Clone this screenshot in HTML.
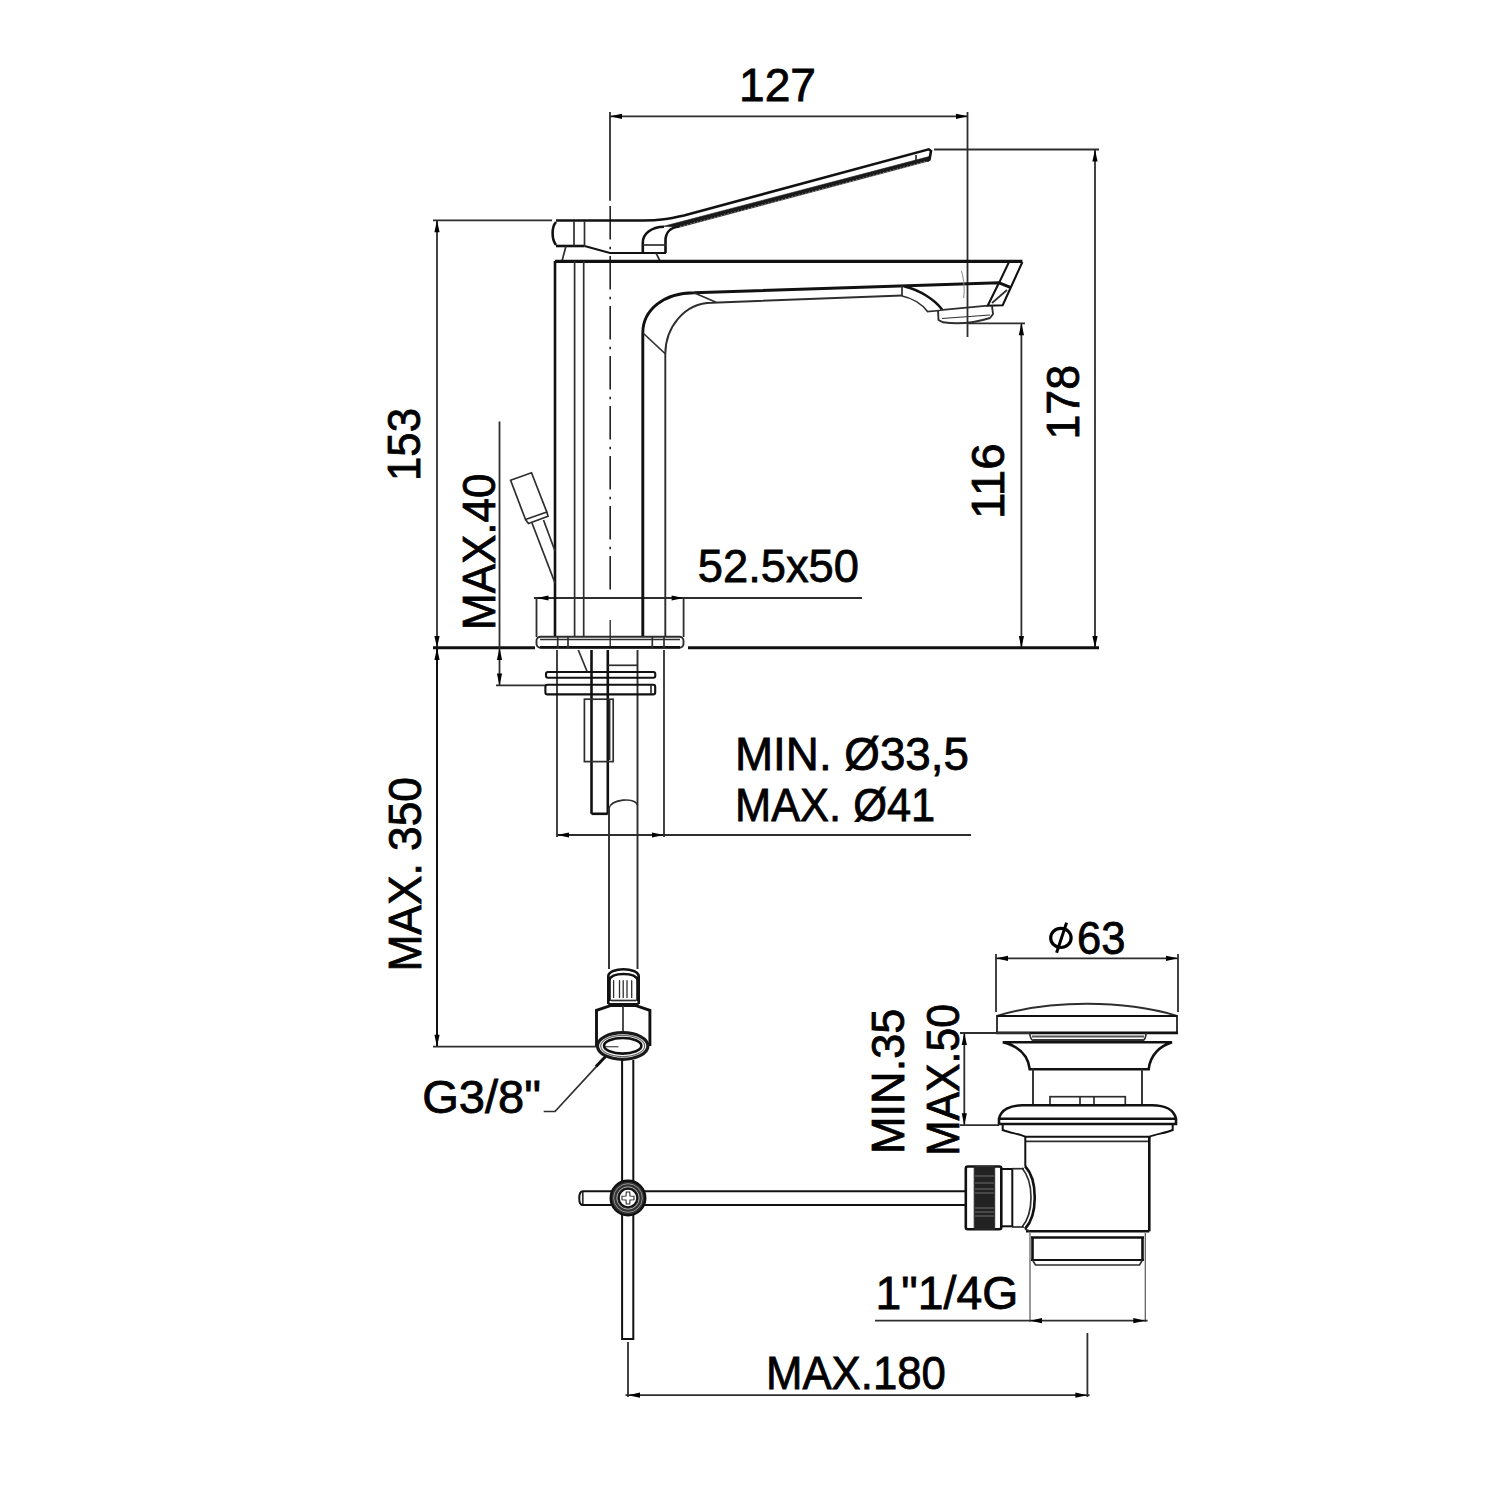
<!DOCTYPE html>
<html><head><meta charset="utf-8"><style>
html,body{margin:0;padding:0;background:#fff;}
svg{display:block;}
text{font-family:"Liberation Sans", sans-serif;fill:#000;stroke:#000;stroke-width:0.8px;}
</style></head><body>
<svg width="1500" height="1500" viewBox="0 0 1500 1500">
<rect width="1500" height="1500" fill="#fff"/>
<line x1="610" y1="116.3" x2="968" y2="116.3" stroke="#2e2e2e" stroke-width="1.8"/>
<polygon points="610.0,116.3 622.0,113.7 622.0,118.9" fill="#000"/>
<polygon points="968.0,116.3 956.0,113.7 956.0,118.9" fill="#000"/>
<line x1="610" y1="112" x2="610" y2="200.7" stroke="#2e2e2e" stroke-width="1.8"/>
<line x1="967.5" y1="112" x2="967.5" y2="337" stroke="#2e2e2e" stroke-width="1.8"/>
<line x1="934" y1="149.5" x2="1099" y2="149.5" stroke="#2e2e2e" stroke-width="1.8"/>
<line x1="1095" y1="149.5" x2="1095" y2="648" stroke="#2e2e2e" stroke-width="1.8"/>
<polygon points="1095.0,149.5 1092.4,161.5 1097.6,161.5" fill="#000"/>
<polygon points="1095.0,648.0 1092.4,636.0 1097.6,636.0" fill="#000"/>
<line x1="968" y1="323.3" x2="1025" y2="323.3" stroke="#2e2e2e" stroke-width="1.8"/>
<line x1="1021.4" y1="323.3" x2="1021.4" y2="648" stroke="#2e2e2e" stroke-width="1.8"/>
<polygon points="1021.4,323.3 1018.8,335.3 1024.0,335.3" fill="#000"/>
<polygon points="1021.4,648.0 1018.8,636.0 1024.0,636.0" fill="#000"/>
<line x1="433" y1="220.3" x2="552" y2="220.3" stroke="#2e2e2e" stroke-width="1.8"/>
<line x1="437" y1="220.3" x2="437" y2="648" stroke="#2e2e2e" stroke-width="1.8"/>
<polygon points="437.0,220.3 434.4,232.3 439.6,232.3" fill="#000"/>
<polygon points="437.0,648.0 434.4,636.0 439.6,636.0" fill="#000"/>
<line x1="433" y1="647.8" x2="535" y2="647.8" stroke="#111" stroke-width="3.0"/>
<line x1="688" y1="647.8" x2="1099" y2="647.8" stroke="#111" stroke-width="3.0"/>
<line x1="499.5" y1="421.5" x2="499.5" y2="685.4" stroke="#2e2e2e" stroke-width="1.8"/>
<polygon points="499.5,648.0 496.9,660.0 502.1,660.0" fill="#000"/>
<polygon points="499.5,685.4 496.9,673.4 502.1,673.4" fill="#000"/>
<line x1="496" y1="685.4" x2="546" y2="685.4" stroke="#2e2e2e" stroke-width="1.8"/>
<line x1="534" y1="598" x2="862" y2="598" stroke="#2e2e2e" stroke-width="1.8"/>
<polygon points="536.5,598.0 548.5,595.4 548.5,600.6" fill="#000"/>
<polygon points="683.6,598.0 671.6,595.4 671.6,600.6" fill="#000"/>
<line x1="536.5" y1="598" x2="536.5" y2="637" stroke="#2e2e2e" stroke-width="1.8"/>
<line x1="683.6" y1="598" x2="683.6" y2="637" stroke="#2e2e2e" stroke-width="1.8"/>
<line x1="437" y1="648" x2="437" y2="1047" stroke="#111" stroke-width="2.0"/>
<polygon points="437.0,648.0 434.4,660.0 439.6,660.0" fill="#000"/>
<polygon points="437.0,1046.7 434.4,1034.7 439.6,1034.7" fill="#000"/>
<line x1="433" y1="1046.7" x2="597" y2="1046.7" stroke="#2e2e2e" stroke-width="1.8"/>
<line x1="604" y1="1046.7" x2="618.5" y2="1046.7" stroke="#555" stroke-width="1.3"/>
<line x1="557" y1="835" x2="971" y2="835" stroke="#2e2e2e" stroke-width="1.8"/>
<polygon points="557.0,835.0 569.0,832.4 569.0,837.6" fill="#000"/>
<polygon points="664.0,835.0 652.0,832.4 652.0,837.6" fill="#000"/>
<line x1="557" y1="650" x2="557" y2="837" stroke="#2e2e2e" stroke-width="1.8"/>
<line x1="664" y1="650" x2="664" y2="837" stroke="#2e2e2e" stroke-width="1.8"/>
<line x1="610.2" y1="206" x2="610.2" y2="590" stroke="#222" stroke-width="1.6" stroke-dasharray="33.5 7.2 2.6 6.7" stroke-dashoffset="0"/>
<line x1="610.2" y1="620" x2="610.2" y2="648" stroke="#2e2e2e" stroke-width="1.4"/>
<path d="M556,220.5 L643,220.5 C660,220.5 668,219 684,215.5 L928.7,149.3 L931,151 L929.5,159.5 L927,161" stroke="#111" stroke-width="2.6" fill="none" />
<path d="M556,222 C551.5,227 551.5,239 556,245" stroke="#111" stroke-width="2.6" fill="none" />
<line x1="556" y1="246" x2="584.5" y2="246" stroke="#111" stroke-width="2.6"/>
<path d="M584.5,246 L610,253 L666,253" stroke="#111" stroke-width="2.0" fill="none" />
<line x1="574" y1="221" x2="574" y2="246" stroke="#2e2e2e" stroke-width="1.7"/>
<line x1="584.5" y1="221" x2="584.5" y2="246" stroke="#2e2e2e" stroke-width="1.7"/>
<line x1="566" y1="246" x2="562" y2="261" stroke="#2e2e2e" stroke-width="1.7"/>
<line x1="656" y1="253" x2="660" y2="261" stroke="#2e2e2e" stroke-width="1.7"/>
<path d="M642.8,253 L642.8,242.7 C642.8,234 651,227 664,226.8" stroke="#111" stroke-width="2.6" fill="none" />
<path d="M665.5,253 L665.5,240.5 C665.5,233 670,227.5 679,226.5" stroke="#111" stroke-width="2.6" fill="none" />
<line x1="643" y1="245" x2="666" y2="245" stroke="#2e2e2e" stroke-width="1.7"/>
<polygon points="663.5,226.3 929,156.6 929.5,160.8 679.5,227.2" fill="#1a1a1a" stroke="#1a1a1a" stroke-width="0.6"/>
<path d="M680,226.5 L925,161.5" stroke="#888" stroke-width="0.9" stroke-dasharray="1.5 2" fill="none"/>
<line x1="916" y1="155" x2="916" y2="160" stroke="#2e2e2e" stroke-width="1.7"/>
<line x1="555" y1="261.3" x2="1022.4" y2="261.3" stroke="#111" stroke-width="3.2"/>
<line x1="555" y1="261" x2="555" y2="637" stroke="#111" stroke-width="2.6"/>
<line x1="574.6" y1="261" x2="574.6" y2="637" stroke="#2e2e2e" stroke-width="1.7"/>
<line x1="583.7" y1="261" x2="583.7" y2="637" stroke="#2e2e2e" stroke-width="1.7"/>
<path d="M642.8,637 L642.8,333 C642.8,310 664,292.7 694,292.7 L999,282.8 L1011,287.6" stroke="#111" stroke-width="2.9" fill="none" />
<path d="M665.3,637 L665.3,354 C665.3,328 684,302.7 712,302.7 L902,295.5" stroke="#2e2e2e" stroke-width="1.9" fill="none" />
<line x1="643" y1="333" x2="665.5" y2="354" stroke="#2e2e2e" stroke-width="1.7"/>
<line x1="694" y1="292.7" x2="716" y2="302.3" stroke="#2e2e2e" stroke-width="1.7"/>
<path d="M1022.4,262 L1002.7,305.2 L987.7,305.7 L999,282.8" stroke="#111" stroke-width="2.1" fill="none" />
<line x1="1009" y1="262" x2="999" y2="283" stroke="#111" stroke-width="2.0"/>
<line x1="1007" y1="290" x2="992" y2="303" stroke="#2e2e2e" stroke-width="1.7"/>
<line x1="902" y1="285.5" x2="902" y2="296" stroke="#2e2e2e" stroke-width="1.7"/>
<path d="M902,296 C912,298 922,304 927.5,311.6 L940,310.5" stroke="#2e2e2e" stroke-width="1.7" fill="none" />
<path d="M904.5,286.5 C920,290 935,300 942,309.5" stroke="#111" stroke-width="2.6" fill="none" />
<line x1="940" y1="310.2" x2="987.7" y2="305.7" stroke="#2e2e2e" stroke-width="1.7"/>
<path d="M938,310 L938.5,320 L943,322.3 Q966,325.5 990,318 L993,314 L992,306" stroke="#2e2e2e" stroke-width="1.9" fill="none" />
<line x1="942" y1="318.5" x2="990" y2="315" stroke="#2e2e2e" stroke-width="1.2"/>
<rect x="536.5" y="636.8" width="147" height="11" rx="4" stroke="#2e2e2e" stroke-width="1.9" fill="none"/>
<line x1="540" y1="647.2" x2="680" y2="647.2" stroke="#111" stroke-width="2.6"/>
<line x1="540" y1="639.5" x2="680" y2="639.5" stroke="#2e2e2e" stroke-width="1.7"/>
<line x1="557.7" y1="637" x2="557.7" y2="648" stroke="#2e2e2e" stroke-width="1.7"/>
<line x1="568" y1="637" x2="568" y2="648" stroke="#2e2e2e" stroke-width="1.7"/>
<line x1="652.3" y1="637" x2="652.3" y2="648" stroke="#2e2e2e" stroke-width="1.7"/>
<line x1="664" y1="637" x2="664" y2="648" stroke="#2e2e2e" stroke-width="1.7"/>
<path d="M510.6,480.3 L531.5,472.8 L546.8,512 L525.5,519.5 Z" stroke="#2e2e2e" stroke-width="1.7" fill="none" />
<path d="M525.5,519.5 L528.5,523.5 L548,516.3 L546.8,512" stroke="#2e2e2e" stroke-width="1.7" fill="none" />
<line x1="532" y1="523" x2="555" y2="583" stroke="#2e2e2e" stroke-width="1.7"/>
<line x1="543.5" y1="520" x2="555" y2="551" stroke="#2e2e2e" stroke-width="1.7"/>
<path d="M961.5,271 C964,280 965,290 963.5,298" stroke="#888" stroke-width="1.0" fill="none" />
<line x1="591.5" y1="650" x2="591.5" y2="813.8" stroke="#111" stroke-width="2.6"/>
<line x1="607.8" y1="650" x2="607.8" y2="813.8" stroke="#111" stroke-width="2.6"/>
<line x1="591.5" y1="813.8" x2="607.8" y2="813.8" stroke="#111" stroke-width="2.6"/>
<line x1="637.5" y1="650" x2="637.5" y2="969" stroke="#2e2e2e" stroke-width="1.9"/>
<line x1="578.3" y1="650" x2="587" y2="671.2" stroke="#2e2e2e" stroke-width="1.7"/>
<line x1="608" y1="665.3" x2="637.5" y2="665.3" stroke="#2e2e2e" stroke-width="1.7"/>
<rect x="546" y="672" width="109.3" height="5.8" rx="2" stroke="#111" stroke-width="2.1" fill="none"/>
<rect x="545.4" y="684.8" width="109.8" height="9.6" rx="2" stroke="#111" stroke-width="2.1" fill="none"/>
<line x1="651" y1="685" x2="651" y2="694" stroke="#2e2e2e" stroke-width="1.7"/>
<rect x="584.4" y="699.2" width="28.8" height="62.4" rx="0" stroke="#2e2e2e" stroke-width="1.7" fill="none"/>
<line x1="609.6" y1="699" x2="609.6" y2="760" stroke="#2e2e2e" stroke-width="1.7"/>
<line x1="609" y1="808" x2="609" y2="969" stroke="#2e2e2e" stroke-width="1.9"/>
<path d="M609,808 C612,799 634,797 637.5,805" stroke="#2e2e2e" stroke-width="1.7" fill="none" />
<path d="M608.3,1004 L608.3,976 C609,967 638,967 638.7,976 L638.7,1004" stroke="#111" stroke-width="2.6" fill="none" />
<path d="M609,980 C612,972 635,972 638,980" stroke="#111" stroke-width="2.6" fill="none" />
<line x1="609.5" y1="979" x2="609.5" y2="1001" stroke="#111" stroke-width="2.6"/>
<line x1="637.5" y1="979" x2="637.5" y2="1001" stroke="#111" stroke-width="2.6"/>
<path d="M613.6,998 L613.6,983 C613.6,980 613.6,980 613.6,983" stroke="#2e2e2e" stroke-width="1.3" fill="none" />
<path d="M619.5,998 L619.5,983 C619.5,980 619.5,980 619.5,983" stroke="#2e2e2e" stroke-width="1.3" fill="none" />
<path d="M623.2,998 L623.2,983 C623.2,980 623.2,980 623.2,983" stroke="#2e2e2e" stroke-width="1.3" fill="none" />
<path d="M627,998 L627,983 C627,980 627,980 627,983" stroke="#2e2e2e" stroke-width="1.3" fill="none" />
<path d="M631.7,998 L631.7,983 C631.7,980 631.7,980 631.7,983" stroke="#2e2e2e" stroke-width="1.3" fill="none" />
<line x1="611" y1="1000.5" x2="636" y2="1000.5" stroke="#2e2e2e" stroke-width="1.7"/>
<line x1="608.3" y1="1004.2" x2="638.7" y2="1004.2" stroke="#111" stroke-width="2.4"/>
<path d="M596.5,1046 L596.5,1010.4 L610.4,1005.6 L636,1005.6 L649.9,1010.4 L649.9,1046" stroke="#111" stroke-width="2.9" fill="none" />
<line x1="623" y1="1005.6" x2="623" y2="1031" stroke="#2e2e2e" stroke-width="1.7"/>
<ellipse cx="622.7" cy="1046" rx="25.2" ry="13.3" stroke="#1a1a1a" stroke-width="3.2" fill="none"/>
<ellipse cx="622.7" cy="1046" rx="22" ry="10.6" stroke="#666" stroke-width="1.2" fill="none"/>
<ellipse cx="622.7" cy="1045.8" rx="18.7" ry="7.8" stroke="#111" stroke-width="2.6" fill="none"/>
<path d="M543.7,1111.5 L555,1111.5 L605.3,1056.8" stroke="#2e2e2e" stroke-width="1.7" fill="none" />
<path d="M596,1066.5 L605.5,1056.5" stroke="#111" stroke-width="3.0" fill="none" />
<path d="M622.1,1060 L622.1,1339 L633.3,1339 L633.3,1060" stroke="#111" stroke-width="2.0" fill="none" />
<path d="M966,1191.2 L583,1191.2 C578,1191.2 578,1205.1 583,1205.1 L966,1205.1" stroke="#111" stroke-width="2.0" fill="none" />
<line x1="582.8" y1="1192" x2="582.8" y2="1204" stroke="#2e2e2e" stroke-width="1.7"/>
<circle cx="628" cy="1198" r="13.5" stroke="#333" stroke-width="7.5" fill="#fff"/>
<circle cx="628" cy="1198" r="17.3" stroke="#111" stroke-width="2.4" fill="none"/>
<circle cx="628" cy="1198" r="14.3" stroke="#999" stroke-width="0.9" fill="none"/>
<circle cx="628" cy="1198" r="11.2" stroke="#aaa" stroke-width="1.0" fill="none"/>
<circle cx="628" cy="1198" r="9.2" stroke="#111" stroke-width="2.0" fill="none"/>
<path d="M626.3,1192 L629.7,1192 L630,1196 L634,1196.3 L634,1199.7 L630,1200 L629.7,1204 L626.3,1204 L626,1200 L622,1199.7 L622,1196.3 L626,1196 Z" stroke="#2e2e2e" stroke-width="1.1" fill="none" />
<line x1="996" y1="958.3" x2="1178" y2="958.3" stroke="#2e2e2e" stroke-width="1.8"/>
<polygon points="996.0,958.3 1008.0,955.7 1008.0,960.9" fill="#000"/>
<polygon points="1178.0,958.3 1166.0,955.7 1166.0,960.9" fill="#000"/>
<line x1="996" y1="954" x2="996" y2="1012" stroke="#2e2e2e" stroke-width="1.8"/>
<line x1="1178" y1="954" x2="1178" y2="1012" stroke="#2e2e2e" stroke-width="1.8"/>
<path d="M997,1033 L997,1015.8 C1030,1006 1060,1003.8 1087,1003.8 C1114,1003.8 1144,1006 1177,1015.8 L1177,1033" stroke="#2e2e2e" stroke-width="1.9" fill="none" />
<line x1="996" y1="1032.9" x2="1178" y2="1032.9" stroke="#111" stroke-width="2.6"/>
<line x1="997" y1="1016" x2="1177" y2="1016" stroke="#111" stroke-width="2.2"/>
<path d="M1029.7,1033 C1030,1037 1031,1040 1034,1041 L1142,1041 C1145,1040 1146,1037 1146,1033" stroke="#2e2e2e" stroke-width="1.7" fill="none" />
<line x1="1032" y1="1036.6" x2="1144" y2="1036.6" stroke="#555" stroke-width="2.0"/>
<line x1="1033" y1="1039.9" x2="1143" y2="1039.9" stroke="#333" stroke-width="2.0"/>
<path d="M1002.8,1042.3 L1172,1042.3 C1160,1046 1150,1055 1148.7,1069.2 L1029.7,1069.2 C1028,1055 1018,1046 1002.8,1042.3 Z" stroke="#111" stroke-width="2.6" fill="none" />
<line x1="1033" y1="1069" x2="1033" y2="1105" stroke="#2e2e2e" stroke-width="1.9"/>
<line x1="1142" y1="1069" x2="1142" y2="1105" stroke="#2e2e2e" stroke-width="1.9"/>
<rect x="1050" y="1096.7" width="75.3" height="8.6" rx="0" stroke="#2e2e2e" stroke-width="1.7" fill="none"/>
<line x1="1080" y1="1097" x2="1080" y2="1105" stroke="#2e2e2e" stroke-width="1.7"/>
<line x1="1094" y1="1097" x2="1094" y2="1105" stroke="#2e2e2e" stroke-width="1.7"/>
<path d="M999,1118.7 C1001,1110 1010,1105.3 1022,1105.3 L1152,1105.3 C1165,1105.3 1174,1110 1176,1118.7 L1176,1124 L999,1124 Z" stroke="#111" stroke-width="2.6" fill="none" />
<line x1="999" y1="1118.7" x2="1176" y2="1118.7" stroke="#111" stroke-width="2.6"/>
<path d="M1002.7,1124 L1002.7,1130 C1010,1133 1020,1134 1025.3,1136.7 L1149.3,1136.7 C1156,1134 1166,1133 1172.7,1130 L1172.7,1124" stroke="#111" stroke-width="2.0" fill="none" />
<line x1="1025.3" y1="1141.3" x2="1149.3" y2="1141.3" stroke="#2e2e2e" stroke-width="1.7"/>
<line x1="1025.3" y1="1137" x2="1025.3" y2="1166" stroke="#111" stroke-width="2.0"/>
<line x1="1149.3" y1="1137" x2="1149.3" y2="1231.3" stroke="#111" stroke-width="2.6"/>
<line x1="1026" y1="1231.3" x2="1149.3" y2="1231.3" stroke="#111" stroke-width="2.6"/>
<line x1="1030" y1="1233" x2="1030" y2="1322" stroke="#555" stroke-width="1.2"/>
<line x1="1145.3" y1="1233" x2="1145.3" y2="1322" stroke="#555" stroke-width="1.2"/>
<line x1="1032.5" y1="1237.5" x2="1032.5" y2="1260" stroke="#111" stroke-width="2.6"/>
<line x1="1142.5" y1="1237.5" x2="1142.5" y2="1260" stroke="#111" stroke-width="2.6"/>
<line x1="1031" y1="1237.5" x2="1144" y2="1237.5" stroke="#111" stroke-width="2.6"/>
<line x1="1031" y1="1260" x2="1144" y2="1260" stroke="#111" stroke-width="2.2"/>
<path d="M1032.5,1260 L1035.5,1265 L1139.5,1265 L1142.5,1260" stroke="#2e2e2e" stroke-width="1.6" fill="none" />
<path d="M1025,1166 C1038,1180 1038,1215 1025,1229" stroke="#111" stroke-width="2.6" fill="none" />
<path d="M1022,1168 C1034,1182 1034,1213 1022,1227" stroke="#2e2e2e" stroke-width="1.7" fill="none" />
<line x1="1025" y1="1229" x2="1030" y2="1231.3" stroke="#2e2e2e" stroke-width="1.7"/>
<rect x="1001" y="1169" width="11.3" height="57.3" rx="0" stroke="#111" stroke-width="2.0" fill="none"/>
<line x1="1012" y1="1168.7" x2="1024" y2="1168.7" stroke="#2e2e2e" stroke-width="1.7"/>
<line x1="1012" y1="1227" x2="1024" y2="1227" stroke="#2e2e2e" stroke-width="1.7"/>
<rect x="965.8" y="1166.5" width="35.5" height="62.7" rx="2" stroke="#111" stroke-width="2.6" fill="none"/>
<rect x="974.2" y="1166.5" width="20.5" height="62.7" rx="1" stroke="#2e2e2e" stroke-width="1.0" fill="#222"/>
<line x1="975" y1="1176" x2="994" y2="1176" stroke="#777" stroke-width="0.9"/>
<line x1="975" y1="1183" x2="994" y2="1183" stroke="#777" stroke-width="0.9"/>
<line x1="975" y1="1189" x2="994" y2="1189" stroke="#777" stroke-width="0.9"/>
<line x1="975" y1="1193" x2="994" y2="1193" stroke="#777" stroke-width="0.9"/>
<line x1="975" y1="1208" x2="994" y2="1208" stroke="#777" stroke-width="0.9"/>
<line x1="975" y1="1212" x2="994" y2="1212" stroke="#777" stroke-width="0.9"/>
<line x1="975" y1="1216" x2="994" y2="1216" stroke="#777" stroke-width="0.9"/>
<line x1="964.3" y1="1033" x2="964.3" y2="1125.2" stroke="#2e2e2e" stroke-width="1.8"/>
<polygon points="964.3,1033.0 961.7,1045.0 966.9,1045.0" fill="#000"/>
<polygon points="964.3,1125.2 961.7,1113.2 966.9,1113.2" fill="#000"/>
<line x1="960" y1="1033" x2="1030" y2="1033" stroke="#2e2e2e" stroke-width="1.8"/>
<line x1="960" y1="1125.2" x2="999" y2="1125.2" stroke="#2e2e2e" stroke-width="1.8"/>
<line x1="875" y1="1320.7" x2="1147.6" y2="1320.7" stroke="#2e2e2e" stroke-width="1.8"/>
<polygon points="1030.0,1320.7 1042.0,1318.1 1042.0,1323.3" fill="#000"/>
<polygon points="1145.3,1320.7 1133.3,1318.1 1133.3,1323.3" fill="#000"/>
<line x1="625.5" y1="1395.2" x2="1089.6" y2="1395.2" stroke="#2e2e2e" stroke-width="1.8"/>
<polygon points="628.0,1395.2 640.0,1392.6 640.0,1397.8" fill="#000"/>
<polygon points="1087.4,1395.2 1075.4,1392.6 1075.4,1397.8" fill="#000"/>
<line x1="628" y1="1342" x2="628" y2="1397" stroke="#2e2e2e" stroke-width="1.8"/>
<line x1="1087.4" y1="1333" x2="1087.4" y2="1397" stroke="#2e2e2e" stroke-width="1.8"/>
<text x="739.0" y="101.0" font-size="47" text-anchor="start" textLength="77.0" lengthAdjust="spacingAndGlyphs">127</text>
<text x="420.4" y="481.0" font-size="47" text-anchor="start" textLength="73.0" lengthAdjust="spacingAndGlyphs" transform="rotate(-90 420.4 481.0)">153</text>
<text x="1079.2" y="439.5" font-size="47" text-anchor="start" textLength="74.6" lengthAdjust="spacingAndGlyphs" transform="rotate(-90 1079.2 439.5)">178</text>
<text x="1004.4" y="519.0" font-size="47" text-anchor="start" textLength="75.5" lengthAdjust="spacingAndGlyphs" transform="rotate(-90 1004.4 519.0)">116</text>
<text x="495.0" y="630.0" font-size="47" text-anchor="start" textLength="156.4" lengthAdjust="spacingAndGlyphs" transform="rotate(-90 495.0 630.0)">MAX.40</text>
<text x="697.8" y="581.8" font-size="47" text-anchor="start" textLength="161.2" lengthAdjust="spacingAndGlyphs">52.5x50</text>
<text x="735.0" y="769.8" font-size="47" text-anchor="start" textLength="234.0" lengthAdjust="spacingAndGlyphs">MIN. Ø33,5</text>
<text x="735.0" y="821.1" font-size="47" text-anchor="start" textLength="200.2" lengthAdjust="spacingAndGlyphs">MAX. Ø41</text>
<text x="421.4" y="971.5" font-size="47" text-anchor="start" textLength="194.4" lengthAdjust="spacingAndGlyphs" transform="rotate(-90 421.4 971.5)">MAX. 350</text>
<text x="422.2" y="1112.9" font-size="47" text-anchor="start" textLength="118.8" lengthAdjust="spacingAndGlyphs">G3/8&quot;</text>
<text x="1077.0" y="953.8" font-size="47" text-anchor="start" textLength="48.4" lengthAdjust="spacingAndGlyphs">63</text>
<text x="904.2" y="1154.0" font-size="47" text-anchor="start" textLength="145.4" lengthAdjust="spacingAndGlyphs" transform="rotate(-90 904.2 1154.0)">MIN.35</text>
<text x="958.8" y="1156.0" font-size="47" text-anchor="start" textLength="152.0" lengthAdjust="spacingAndGlyphs" transform="rotate(-90 958.8 1156.0)">MAX.50</text>
<text x="875.6" y="1309.0" font-size="47" text-anchor="start" textLength="142.6" lengthAdjust="spacingAndGlyphs">1&quot;1/4G</text>
<text x="766.0" y="1389.2" font-size="47" text-anchor="start" textLength="179.9" lengthAdjust="spacingAndGlyphs">MAX.180</text>
<ellipse cx="1060.9" cy="937.9" rx="10.2" ry="9.6" stroke="#000" stroke-width="3.2" fill="none"/>
<line x1="1056.6" y1="952.8" x2="1066.6" y2="922.6" stroke="#000" stroke-width="3.0"/>
</svg></body></html>
